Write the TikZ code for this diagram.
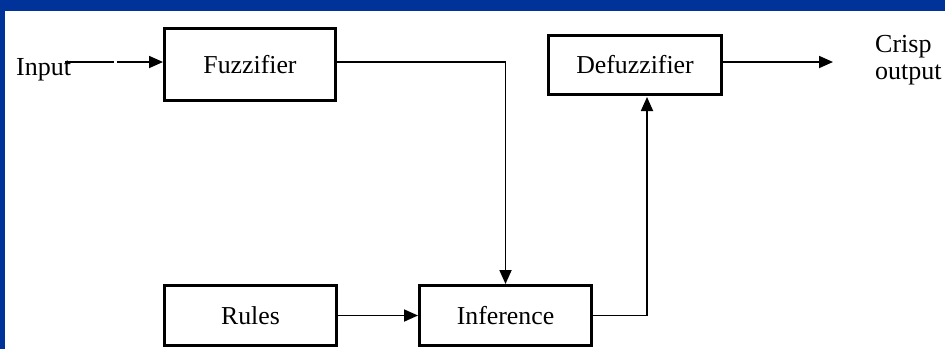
\documentclass[tikz,border=0pt]{standalone}
\usepackage{fontspec}
\setmainfont{Liberation Serif}
\usetikzlibrary{arrows.meta}
\definecolor{framebl}{RGB}{0,51,153}
\begin{document}
\begin{tikzpicture}[x=1pt,y=-1pt,
  blockbox/.style={draw=black,line width=3pt,fill=white,inner sep=0pt,font=\fontsize{25.8}{28}\selectfont},
  lbl/.style={inner sep=0pt,font=\fontsize{26}{28}\selectfont},
  conn/.style={draw=black,line width=1.8pt,-{Triangle[length=14pt,width=12pt]}},
  plain/.style={draw=black,line width=1.8pt}]
\useasboundingbox (0,0) rectangle (945,349);
\fill[white] (0,0) rectangle (945,349);
\fill[framebl] (0,0) rectangle (945,11);
\fill[framebl] (0,0) rectangle (5,349);

\node[blockbox,minimum width=171pt,minimum height=72pt] (fuzz) at (250,64.5) {Fuzzifier};
\node[blockbox,minimum width=173pt,minimum height=59pt] (defuzz) at (635,65) {Defuzzifier};
\node[blockbox,minimum width=172pt,minimum height=60pt] (rules) at (250.5,315.5) {Rules};
\node[blockbox,minimum width=172pt,minimum height=60pt] (inf) at (505.5,315.5) {Inference};

\node[lbl,anchor=west] (input) at (16,70) {Input};
\node[lbl,anchor=west] (crisp) at (875,47) {Crisp};
\node[lbl,anchor=west] (outp) at (875,75) {output};

\coordinate (inA) at (65,62);
\coordinate (inB) at (114,62);
\coordinate (inC) at (117,62);
\coordinate (outE) at (833,62);
\coordinate (upX) at (647,97);

\draw[plain] (inA) -- (inB);
\draw[conn] (inC) -- (fuzz.west |- inC);
\draw[conn] (fuzz.east |- inC) -| (inf.north);
\draw[conn] (rules.east) -- (inf.west);
\draw[conn] (inf.east) -| (upX);
\draw[conn] (defuzz.east |- outE) -- (outE);
\end{tikzpicture}
\end{document}
